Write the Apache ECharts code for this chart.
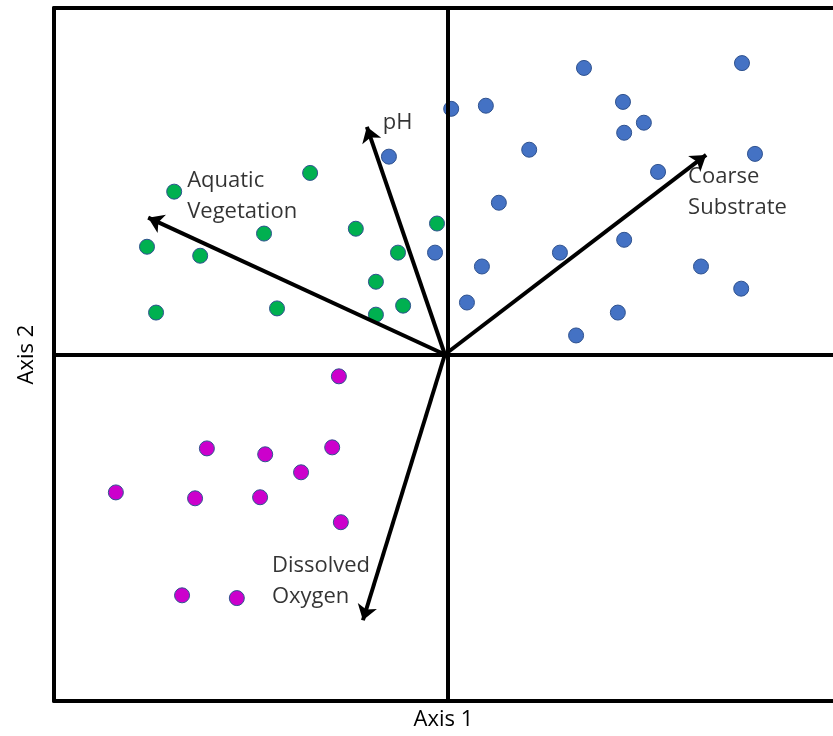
<!DOCTYPE html>
<html>
<head>
<meta charset="utf-8">
<style>
  html, body { margin: 0; padding: 0; background: #fff; }
  #chart { width: 833px; height: 736px; }
</style>
<script src="https://cdn.jsdelivr.net/npm/echarts@6/dist/echarts.min.js"></script>
</head>
<body>
<div id="chart"></div>
<script>
// Site scores on the first two ordination axes, one array per group
const siteGroupA = [
  [0.345, 0.827], [0.746, 0.841], [0.444, 0.729], [0.497, 0.669], [0.447, 0.640],
  [0.008, 0.709], [0.096, 0.718], [-0.150, 0.571], [0.206, 0.591], [0.779, 0.579],
  [0.533, 0.527], [0.129, 0.438], [-0.033, 0.294], [0.086, 0.254], [0.284, 0.294],
  [0.447, 0.331], [0.642, 0.254], [0.744, 0.190], [0.048, 0.150], [0.431, 0.121],
  [0.325, 0.055]
];
const siteGroupB = [
  [-0.695, 0.470], [-0.350, 0.524], [-0.764, 0.311], [-0.629, 0.285], [-0.467, 0.349],
  [-0.234, 0.363], [-0.028, 0.378], [-0.127, 0.294], [-0.183, 0.210], [-0.114, 0.141],
  [-0.183, 0.115], [-0.741, 0.121], [-0.434, 0.133]
];
const siteGroupC = [
  [-0.277, -0.063], [-0.612, -0.271], [-0.464, -0.288], [-0.294, -0.268], [-0.373, -0.340],
  [-0.843, -0.398], [-0.642, -0.415], [-0.477, -0.412], [-0.272, -0.484], [-0.675, -0.695],
  [-0.536, -0.703]
];

// Environmental vectors (biplot arrows)
const vectorOrigin = [-0.008, 0];
const vectorNames = ['pH', 'Aquatic\nVegetation', 'Coarse\nSubstrate', 'Dissolved\nOxygen'];
const vectorTips = [[-0.206, 0.657], [-0.761, 0.395], [0.655, 0.576], [-0.216, -0.767]];

// Axis titles and extents (the frame is open on the right)
const axisTitles = ['Axis 1', 'Axis 2'];
const xExtent = [-1, 0.977];
const yExtent = [-1, 1];

// Where each vector label sits relative to its arrow tip (px)
const labelOffsets = [[16, -4], [39, -21], [-18, 37], [-91, -39]];

const FONT = '"Open Sans", Lato, sans-serif';
const TEXT_SIZE = 22;
const pointBorder = '#2F528F';
const frameLine = { show: true, onZero: false, lineStyle: { color: '#000', width: 4 } };
const hidden = { show: false };

function siteSeries(name, data, fill) {
  return {
    name: name,
    type: 'scatter',
    data: data,
    symbol: 'circle',
    symbolSize: 15,
    itemStyle: { color: fill, borderColor: pointBorder, borderWidth: 1, opacity: 1 },
    z: 3
  };
}

const chart = echarts.init(document.getElementById('chart'), null, { renderer: 'canvas' });

chart.setOption({
  animation: false,
  backgroundColor: '#fff',
  grid: { left: 54, top: 8, right: 0, bottom: 34, show: false },
  xAxis: [
    {
      type: 'value', min: xExtent[0], max: xExtent[1], position: 'bottom',
      name: axisTitles[0], nameLocation: 'middle', nameGap: 8,
      nameTextStyle: { color: '#000', fontSize: TEXT_SIZE, fontFamily: FONT, verticalAlign: 'top' },
      axisLine: frameLine, axisTick: hidden, axisLabel: hidden, splitLine: hidden
    },
    {
      type: 'value', min: xExtent[0], max: xExtent[1], position: 'top',
      axisLine: frameLine, axisTick: hidden, axisLabel: hidden, splitLine: hidden
    }
  ],
  yAxis: {
    type: 'value', min: yExtent[0], max: yExtent[1], position: 'left',
    name: axisTitles[1], nameLocation: 'middle', nameGap: 16,
    nameTextStyle: { color: '#000', fontSize: TEXT_SIZE, fontFamily: FONT },
    axisLine: frameLine, axisTick: hidden, axisLabel: hidden, splitLine: hidden
  },
  series: [
    {
      name: 'axes',
      type: 'scatter',
      data: [],
      silent: true,
      markLine: {
        silent: true,
        symbol: 'none',
        label: { show: false },
        lineStyle: { color: '#000', width: 4, type: 'solid' },
        data: [{ xAxis: 0 }, { yAxis: 0 }],
        animation: false
      },
      z: 1
    },
    siteSeries('Group A', siteGroupA, '#4472C4'),
    siteSeries('Group B', siteGroupB, '#00B050'),
    siteSeries('Group C', siteGroupC, '#CC00CC'),
    {
      name: 'vectors',
      type: 'lines',
      coordinateSystem: 'cartesian2d',
      polyline: false,
      symbol: ['none', 'arrow'],
      symbolSize: [1, 15],
      lineStyle: { color: '#000', width: 4, opacity: 1 },
      data: vectorTips.map(function (tip) { return { coords: [vectorOrigin, tip] }; }),
      z: 4
    },
    {
      name: 'vector labels',
      type: 'scatter',
      symbolSize: 0,
      silent: true,
      data: vectorTips.map(function (tip, i) {
        return {
          value: tip,
          name: vectorNames[i],
          label: { position: labelOffsets[i] }
        };
      }),
      label: {
        show: true,
        formatter: function (p) { return p.name; },
        color: '#000',
        fontSize: TEXT_SIZE,
        fontFamily: FONT,
        lineHeight: 31,
        align: 'left',
        verticalAlign: 'middle'
      },
      z: 5
    }
  ]
});
</script>
</body>
</html>
